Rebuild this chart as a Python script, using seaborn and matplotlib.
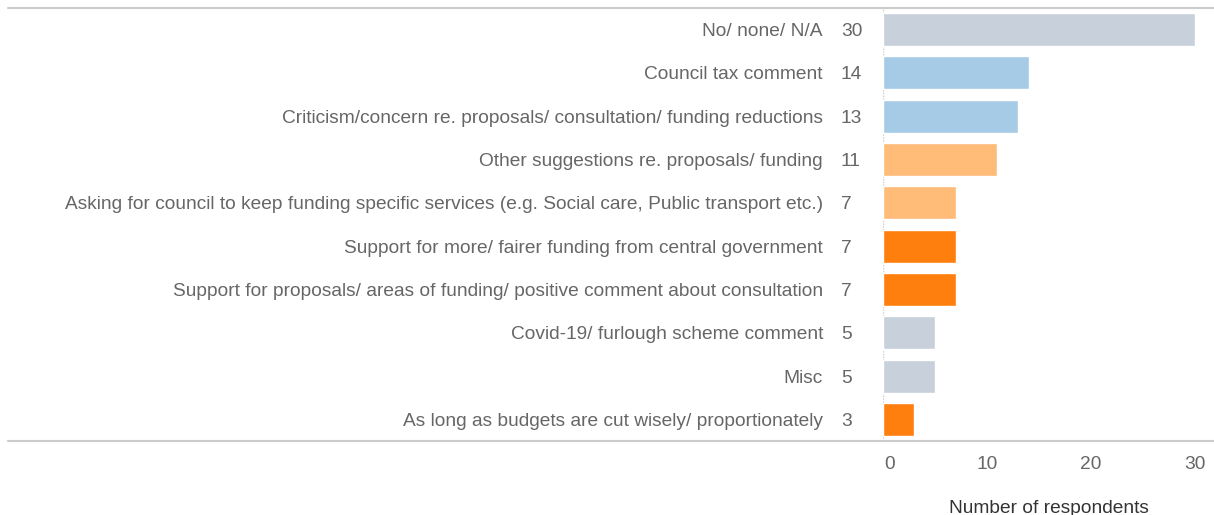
import matplotlib
matplotlib.use("Agg")
import matplotlib.pyplot as plt
from matplotlib.lines import Line2D
from matplotlib.transforms import blended_transform_factory, ScaledTranslation
import seaborn as sns
import pandas as pd

categories = [
    "No/ none/ N/A",
    "Council tax comment",
    "Criticism/concern re. proposals/ consultation/ funding reductions",
    "Other suggestions re. proposals/ funding",
    "Asking for council to keep funding specific services (e.g. Social care, Public transport etc.)",
    "Support for more/ fairer funding from central government",
    "Support for proposals/ areas of funding/ positive comment about consultation",
    "Covid-19/ furlough scheme comment",
    "Misc",
    "As long as budgets are cut wisely/ proportionately",
]
counts = [30, 14, 13, 11, 7, 7, 7, 5, 5, 3]
bar_colors = ["#c8d0db", "#a5cbe7", "#a5cbe7", "#ffbb78", "#ffbb78",
              "#ff7f0e", "#ff7f0e", "#c8d0db", "#c8d0db", "#ff7f0e"]

df = pd.DataFrame({"category": categories, "count": counts})

sns.set_style("white")
plt.rcParams["font.family"] = ["Liberation Sans", "DejaVu Sans"]
text_col = "#666666"
fs = 13.8

W, H = 1214, 515
fig = plt.figure(figsize=(W / 100, H / 100), dpi=100)
ax = fig.add_axes([883 / W, 1 - 441 / H, (W - 883) / W, (441 - 8) / H])

sns.barplot(data=df, y="category", x="count", hue="category", order=categories,
            palette=dict(zip(categories, bar_colors)), legend=False,
            width=0.76, saturation=1, orient="h", ax=ax)

ax.set_xlim(0, (W - 883) / 10.4)
ax.set_ylim(9.5, -0.5)
ax.set_xticks([0, 10, 20, 30])
ax.tick_params(axis="x", length=4, width=1, color="#e0e0e0", labelsize=fs,
               labelcolor=text_col, pad=7)
ax.tick_params(axis="y", left=False, labelleft=False)
ax.set_ylabel("")
ax.set_xlabel("Number of respondents", fontsize=fs, color="#333333", labelpad=19)
for s in ax.spines.values():
    s.set_visible(False)

# the "0" label sits a little right of its tick
zero = ax.get_xticklabels()[0]
zero.set_transform(zero.get_transform() + ScaledTranslation(7 / 100, 0, fig.dpi_scale_trans))

ax.axvline(0, color="#cccccc", lw=1, ls=(0, (1, 1)), zorder=0)

# category labels and values to the left of the bars
tr = blended_transform_factory(fig.transFigure, ax.transData)
for i, (c, v) in enumerate(zip(categories, counts)):
    ax.text(823 / W, i, c, transform=tr, ha="right", va="center_baseline",
            fontsize=fs, color=text_col)
    ax.text(841 / W, i, str(v), transform=tr, ha="left", va="center_baseline",
            fontsize=fs, color=text_col)

# top and bottom rules across the whole width
for yp in (8, 441):
    fig.add_artist(Line2D([8 / W, 1], [1 - yp / H, 1 - yp / H],
                          transform=fig.transFigure, color="#cccccc", lw=1.5))

fig.savefig("out.png", dpi=100)
